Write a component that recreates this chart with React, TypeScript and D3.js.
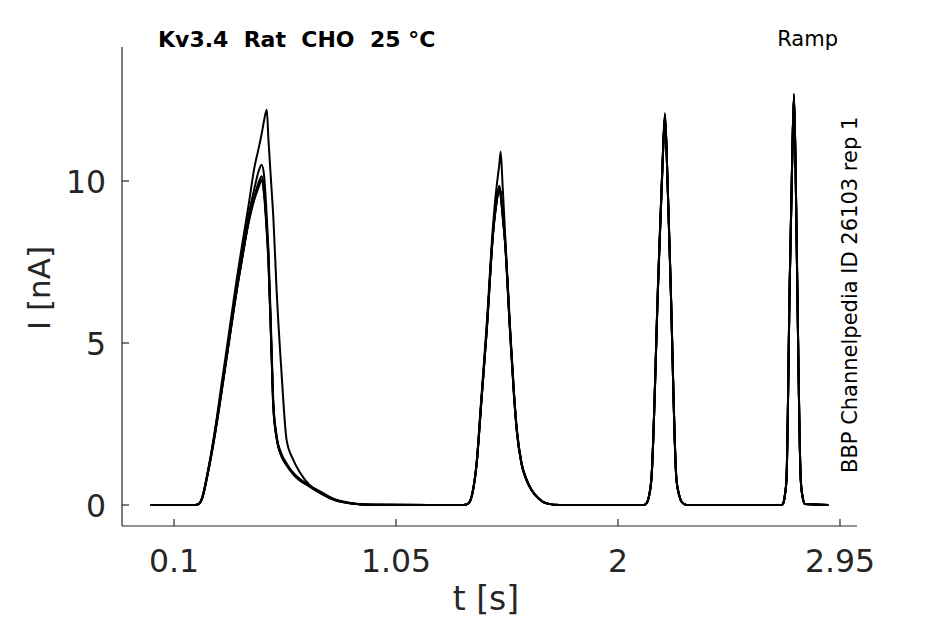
import React from "react";
import * as d3 from "d3";

const timeS = [0, 0.18, 0.203, 0.22, 0.245, 0.275, 0.304, 0.336, 0.368, 0.393, 0.418, 0.445, 0.462, 0.475, 0.485, 0.497, 0.504, 0.518, 0.525, 0.539, 0.56, 0.582, 0.61, 0.639, 0.68, 0.725, 0.78, 0.867, 0.95, 1.2, 1.34, 1.36, 1.378, 1.395, 1.415, 1.438, 1.466, 1.48, 1.492, 1.498, 1.506, 1.516, 1.538, 1.555, 1.567, 1.587, 1.607, 1.63, 1.66, 1.694, 1.75, 2.0, 2.11, 2.122, 2.132, 2.143, 2.172, 2.19, 2.201, 2.212, 2.225, 2.25, 2.262, 2.272, 2.293, 2.5, 2.7, 2.707, 2.714, 2.721, 2.735, 2.745, 2.753, 2.76, 2.767, 2.782, 2.79, 2.8, 2.9];

const traceA = [0, 0, 0.02, 0.22, 1.05, 2.3, 3.75, 5.35, 6.95, 8.1, 9.2, 10.45, 11.0, 11.45, 11.85, 12.2, 11.3, 9.7, 8.9, 6.64, 4.1, 2.0, 1.4, 1.0, 0.62, 0.42, 0.2, 0.05, 0.01, 0, 0, 0.05, 0.42, 1.32, 3.3, 5.55, 8.7, 9.8, 10.5, 10.9, 9.9, 8.5, 5.5, 3.45, 2.35, 1.3, 0.82, 0.47, 0.2, 0.05, 0, 0, 0, 0.05, 0.26, 0.82, 7.0, 10.5, 12.1, 10.05, 6.95, 0.82, 0.3, 0.1, 0, 0, 0, 0.05, 0.3, 0.82, 7.0, 10.55, 12.7, 10.45, 6.95, 0.82, 0.25, 0.03, 0];
const traceB = [0, 0, 0.02, 0.21, 1.02, 2.25, 3.6, 5.2, 6.75, 7.85, 8.9, 9.8, 10.3, 10.5, 10.2, 8.9, 7.9, 4.8, 3.2, 2.15, 1.58, 1.28, 1.0, 0.8, 0.6, 0.4, 0.19, 0.05, 0.01, 0, 0, 0.05, 0.4, 1.27, 3.15, 5.35, 8.45, 9.35, 9.8, 9.65, 9.05, 8.25, 5.45, 3.45, 2.32, 1.3, 0.82, 0.47, 0.21, 0.05, 0, 0, 0, 0.05, 0.25, 0.8, 6.9, 10.4, 12.0, 10.0, 6.9, 0.8, 0.3, 0.1, 0, 0, 0, 0.05, 0.3, 0.8, 6.9, 10.5, 12.6, 10.4, 6.9, 0.8, 0.25, 0.03, 0];
const traceC = [0, 0, 0.02, 0.2, 1.0, 2.2, 3.55, 5.1, 6.64, 7.7, 8.7, 9.5, 9.85, 10.0, 9.6, 8.4, 7.5, 4.5, 3.0, 2.05, 1.5, 1.22, 0.95, 0.75, 0.58, 0.38, 0.18, 0.04, 0.01, 0, 0, 0.05, 0.4, 1.28, 3.2, 5.4, 8.5, 9.4, 9.85, 9.6, 9.0, 8.2, 5.4, 3.4, 2.3, 1.28, 0.8, 0.46, 0.2, 0.05, 0, 0, 0, 0.05, 0.25, 0.8, 6.9, 10.4, 12.05, 10.0, 6.9, 0.8, 0.3, 0.1, 0, 0, 0, 0.05, 0.3, 0.8, 6.9, 10.5, 12.65, 10.4, 6.9, 0.8, 0.25, 0.03, 0];
const traceD = [0, 0, 0.02, 0.19, 0.97, 2.15, 3.5, 5.05, 6.6, 7.68, 8.72, 9.55, 9.95, 10.15, 9.8, 8.6, 7.7, 4.6, 3.1, 2.1, 1.52, 1.25, 0.98, 0.78, 0.58, 0.38, 0.18, 0.04, 0.01, 0, 0, 0.04, 0.38, 1.25, 3.15, 5.35, 8.4, 9.3, 9.75, 9.55, 8.95, 8.15, 5.35, 3.35, 2.27, 1.26, 0.79, 0.45, 0.2, 0.05, 0, 0, 0, 0.05, 0.24, 0.78, 6.85, 10.35, 12.0, 9.95, 6.85, 0.78, 0.29, 0.1, 0, 0, 0, 0.05, 0.29, 0.78, 6.85, 10.45, 12.6, 10.35, 6.85, 0.78, 0.24, 0.03, 0];
const traceE = [0, 0, 0.02, 0.2, 0.99, 2.18, 3.52, 5.08, 6.6, 7.66, 8.66, 9.45, 9.8, 10.05, 9.7, 8.5, 7.6, 4.55, 3.05, 2.08, 1.52, 1.24, 0.97, 0.77, 0.57, 0.37, 0.17, 0.04, 0.01, 0, 0, 0.05, 0.39, 1.26, 3.18, 5.38, 8.45, 9.35, 9.8, 9.58, 8.98, 8.18, 5.38, 3.38, 2.28, 1.27, 0.8, 0.46, 0.2, 0.05, 0, 0, 0, 0.05, 0.25, 0.79, 6.88, 10.38, 12.02, 9.98, 6.88, 0.79, 0.3, 0.1, 0, 0, 0, 0.05, 0.3, 0.79, 6.88, 10.48, 12.62, 10.38, 6.88, 0.79, 0.25, 0.03, 0];

const traces = [traceA, traceB, traceC, traceD, traceE];

const xTicks = [0.1, 1.05, 2, 2.95];
const xTickLabels = ["0.1", "1.05", "2", "2.95"];
const yTicks = [0, 5, 10];
const yTickLabels = ["0", "5", "10"];

const titleText = "Kv3.4  Rat  CHO  25 °C";
const protocolText = "Ramp";
const sideText = "BBP Channelpedia ID 26103 rep 1";
const xLabel = "t [s]";
const yLabel = "I [nA]";

const W = 945;
const H = 624;
const left = 122;
const right = 857;
const top = 47;
const bottom = 526;
const ink = "#262626";
const font = "'DejaVu Sans', sans-serif";

export default function App() {
  const x = d3.scaleLinear().domain([-0.1225, 3.0185]).range([left, right - 1]);
  const y = d3.scaleLinear().domain([-0.648, 14.136]).range([bottom, top]);
  const line = d3
    .line<number>()
    .x((_, i) => x(timeS[i]))
    .y((d) => y(d))
    .curve(d3.curveMonotoneX);

  return (
    <svg
      width={W}
      height={H}
      style={{ position: "absolute", left: 0, top: 0, background: "#fff" }}
    >
      <rect x={0} y={0} width={W} height={H} fill="#fff" />
      {traces.map((tr, k) => (
        <path
          key={k}
          d={line(tr) || ""}
          fill="none"
          stroke="#000"
          strokeWidth={2}
          strokeLinejoin="round"
        />
      ))}
      <line x1={left} x2={right} y1={bottom} y2={bottom} stroke={ink} strokeWidth={1.2} />
      <line x1={left} x2={left} y1={top} y2={bottom} stroke={ink} strokeWidth={1.2} />
      {xTicks.map((t, i) => (
        <g key={"xt" + i}>
          <line x1={x(t)} x2={x(t)} y1={bottom} y2={bottom - 7} stroke={ink} strokeWidth={1.2} />
          <text x={x(t)} y={572} textAnchor="middle" fontFamily={font} fontSize={31.5} fill={ink}>
            {xTickLabels[i]}
          </text>
        </g>
      ))}
      {yTicks.map((v, i) => (
        <g key={"yt" + i}>
          <line x1={left} x2={left + 7} y1={y(v)} y2={y(v)} stroke={ink} strokeWidth={1.2} />
          <text x={106} y={y(v) + 11.5} textAnchor="end" fontFamily={font} fontSize={31.5} fill={ink}>
            {yTickLabels[i]}
          </text>
        </g>
      ))}
      <text x={486} y={610} textAnchor="middle" fontFamily={font} fontSize={33} fill={ink}>
        {xLabel}
      </text>
      <text
        transform={`translate(50, 288) rotate(-90)`}
        textAnchor="middle"
        fontFamily={font}
        fontSize={31}
        fill={ink}
      >
        {yLabel}
      </text>
      <text
        x={158}
        y={47}
        fontFamily={font}
        fontWeight="bold"
        fontSize={22}
        fill="#000"
        style={{ whiteSpace: "pre" }}
      >
        {titleText}
      </text>
      <text x={838} y={46} textAnchor="end" fontFamily={font} fontSize={21} fill="#000">
        {protocolText}
      </text>
      <text
        transform={`translate(857, 473) rotate(-90)`}
        textAnchor="start"
        fontFamily={font}
        fontSize={21}
        fill="#000"
      >
        {sideText}
      </text>
    </svg>
  );
}
